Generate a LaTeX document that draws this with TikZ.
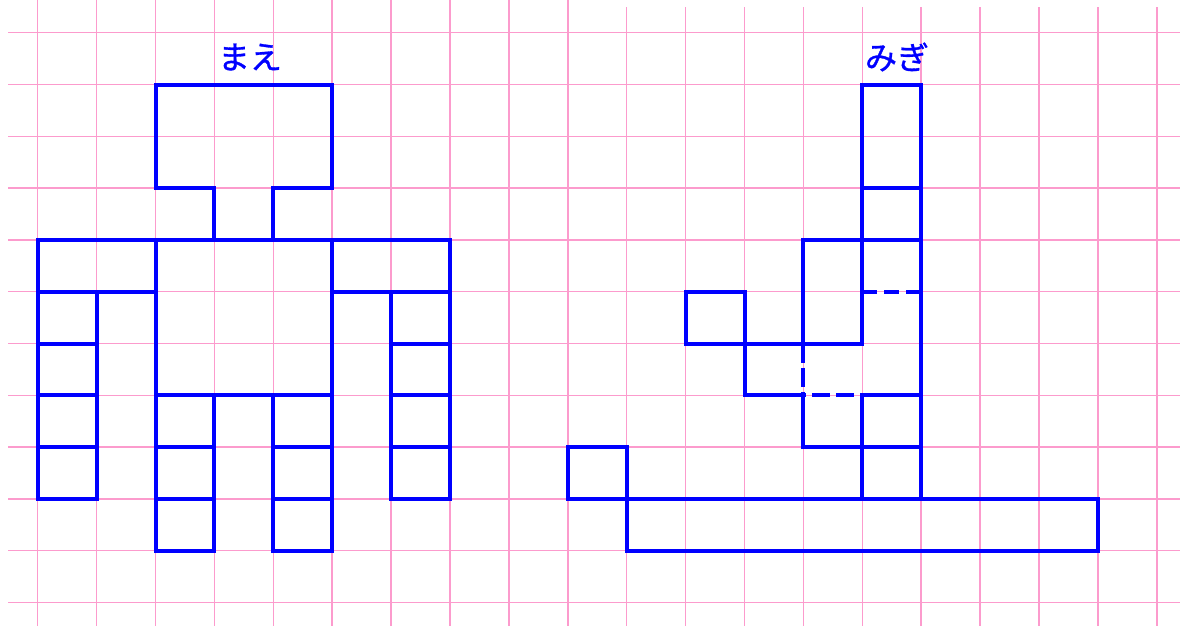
\documentclass[tikz,border=0pt]{standalone}
\usepackage{fontspec}
\newfontfamily\jpfont[FakeBold=1]{Noto Sans CJK JP}
\definecolor{gridpink}{RGB}{252,155,205}
\definecolor{pureblue}{RGB}{0,0,255}
\begin{document}
\begin{tikzpicture}[x=1pt,y=-1pt,
  gridline/.style={draw=gridpink,line width=1.5pt},
  outline/.style={draw=pureblue,line width=4pt,line cap=rect,line join=miter},
  dashline/.style={draw=pureblue,line width=4pt,line cap=butt},
  kanalabel/.style={text=pureblue,font=\jpfont\fontsize{32}{32}\selectfont,inner sep=0pt}]
\useasboundingbox (0,0) rectangle (1180,626);
\begin{scope}[shift={(37.7,32.7)},x=58.9pt,y=-51.8pt]
  % grid
  \foreach \r in {0,...,11} \draw[gridline] (-0.504,\r) -- (19.4,\r);
  \foreach \c in {0,...,9} \draw[gridline] (\c,-0.64) -- (\c,11.46);
  \foreach \c in {10,...,19} \draw[gridline] (\c,-0.496) -- (\c,11.46);
  % ---- front view (left) ----
  % head
  \draw[outline] (3,4) -- (3,3) -- (2,3) -- (2,1) -- (5,1) -- (5,3) -- (4,3) -- (4,4);
  % arms and shoulders
  \draw[outline] (1,5) -- (1,9) -- (0,9) -- (0,4) -- (7,4) -- (7,9) -- (6,9) -- (6,5);
  \draw[outline] (0,5) -- (2,5);
  \draw[outline] (5,5) -- (7,5);
  \foreach \r in {6,7,8} {
    \draw[outline] (0,\r) -- (1,\r);
    \draw[outline] (6,\r) -- (7,\r);
  }
  % body and legs
  \draw[outline] (2,4) -- (2,10) -- (3,10) -- (3,7) -- (4,7) -- (4,10) -- (5,10) -- (5,4);
  \draw[outline] (2,7) -- (3,7);
  \draw[outline] (4,7) -- (5,7);
  \foreach \r in {8,9} {
    \draw[outline] (2,\r) -- (3,\r);
    \draw[outline] (4,\r) -- (5,\r);
  }
  % ---- right view ----
  \draw[outline] (14,6) -- (14,1) -- (15,1) -- (15,9);
  \draw[outline] (14,3) -- (15,3);
  \draw[outline] (13,6) -- (13,4) -- (15,4);
  \draw[dashline,dash pattern=on 15pt off 7pt] (14,5) -- (15,5);
  \draw[outline] (11,6) -- (11,5) -- (12,5) -- (12,7) -- (13,7);
  \draw[outline] (11,6) -- (14,6);
  \draw[dashline,dash pattern=on 19pt off 5pt] (13,6) -- (13,7);
  \draw[dashline,dash pattern=on 18pt off 6pt,dash phase=15pt] (13,7) -- (14,7);
  \draw[outline] (14,7) -- (15,7);
  \draw[outline] (13,7) -- (13,8) -- (15,8);
  \draw[outline] (14,7) -- (14,9);
  \draw[outline] (10,10) -- (10,8) -- (9,8) -- (9,9) -- (18,9) -- (18,10) -- cycle;
\end{scope}
\node[kanalabel] (mae) at (250,57) {まえ};
\node[kanalabel] (migi) at (897,57) {みぎ};
\end{tikzpicture}
\end{document}
